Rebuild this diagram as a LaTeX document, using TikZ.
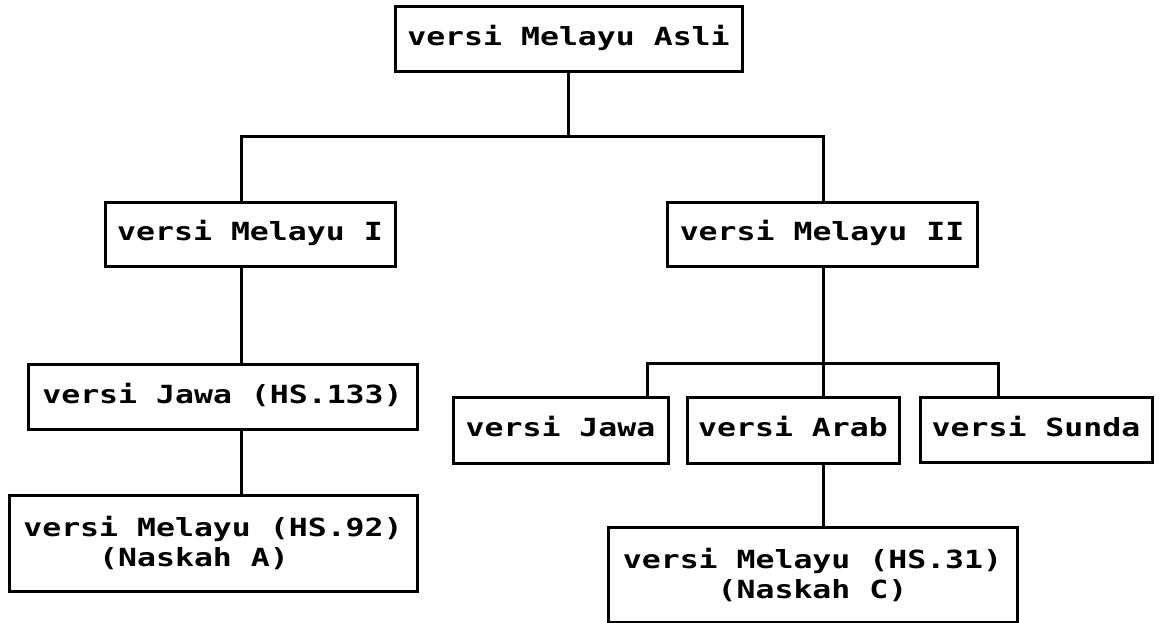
\documentclass[tikz,border=0pt]{standalone}
\usepackage{fontspec}
\newfontfamily\dotmono[FakeStretch=1.26]{DejaVu Sans Mono}
\tikzset{
  box/.style={draw, line width=3pt, inner sep=0pt, align=center,
    font={\dotmono\bfseries\fontsize{25}{30}\selectfont}},
  oneline/.style={box, text height=19pt, text depth=6pt},
  link/.style={line width=3pt, line cap=butt, line join=miter}
}
\begin{document}
\begin{tikzpicture}[x=1pt, y=-1pt]
\path[use as bounding box, fill=white] (0,0) rectangle (1159,623);

\node[oneline, minimum width=347pt, minimum height=65pt] (asli) at (568.5,39.5) {versi Melayu Asli};
\node[oneline, minimum width=290pt, minimum height=64pt] (m1) at (250,234) {versi Melayu I};
\node[oneline, minimum width=310pt, minimum height=64pt] (m2) at (822,234) {versi Melayu II};
\node[oneline, minimum width=389pt, minimum height=65pt] (j133) at (222.5,396.5) {versi Jawa (HS.133)};
\node[box, minimum width=408pt, minimum height=96pt, align=left] (hs92) at (213,543) {versi Melayu (HS.92)\\\phantom{xxxx}(Naskah A)};
\node[oneline, minimum width=215pt, minimum height=66pt] (jawa) at (560.5,430) {versi Jawa};
\node[oneline, minimum width=212pt, minimum height=66pt] (arab) at (793,430) {versi Arab};
\node[oneline, minimum width=232pt, minimum height=65pt] (sunda) at (1036,430) {versi Sunda};
\node[box, minimum width=409pt, minimum height=95pt] (hs31) at (812.5,574.5) {versi Melayu (HS.31)\\(Naskah C)};

\coordinate (L) at (241,137);
\coordinate (R) at (823,137);
\coordinate (S) at (823,363);
\coordinate (SL) at (647,363);
\coordinate (SR) at (998,363);

\draw[link] (asli.south) -- (asli.south |- L);
\draw[link] (L |- m1.north) -- (L) -- (R) -- (R |- m2.north);
\draw[link] (L |- m1.south) -- (L |- j133.north);
\draw[link] (L |- j133.south) -- (L |- hs92.north);
\draw[link] (R |- m2.south) -- (S);
\draw[link] (SL |- jawa.north) -- (SL) -- (SR) -- (SR |- sunda.north);
\draw[link] (S) -- (S |- arab.north);
\draw[link] (S |- arab.south) -- (S |- hs31.north);
\end{tikzpicture}
\end{document}
